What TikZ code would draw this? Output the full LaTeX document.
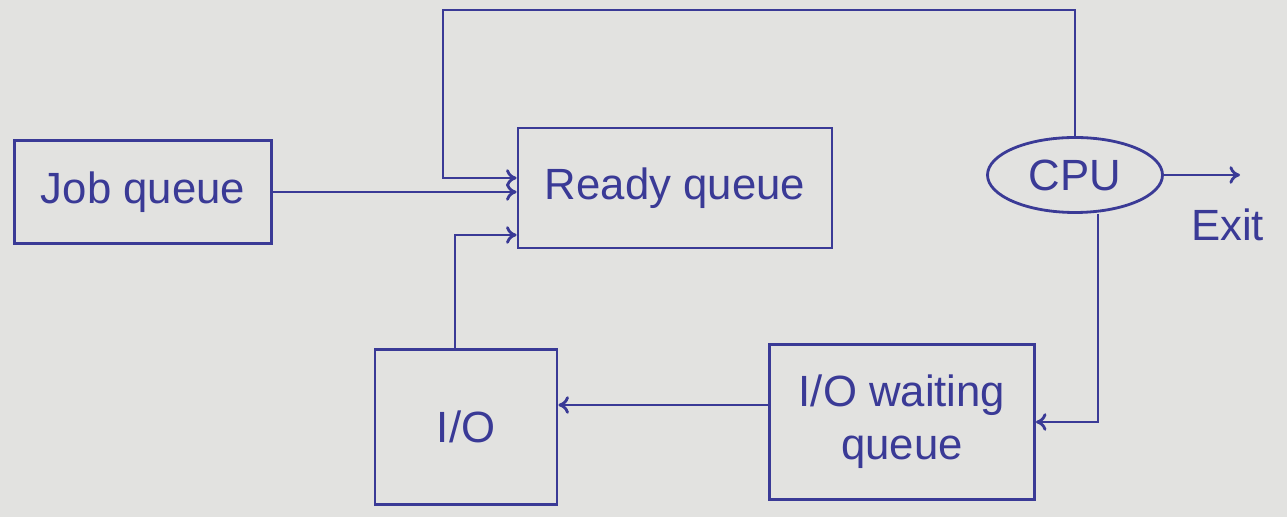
\documentclass[tikz,border=0pt]{standalone}
\usepackage{fontspec}
\setmainfont{Liberation Sans}
\usetikzlibrary{shapes.geometric,arrows.meta}
\definecolor{ink}{RGB}{58,58,150}
\definecolor{paper}{RGB}{226,226,224}
\begin{document}
\begin{tikzpicture}[
        box/.style={draw=ink, line width=1.6pt, rectangle, text=ink, font=\Huge, align=center},
        arrowline/.style={ink, line width=1.6pt, -{To[length=6pt,width=10pt]}}]
                \fill[paper] (0,0) rectangle (25.74,10.34);
                \useasboundingbox (0,0) rectangle (25.74,10.34);

                \node[box, minimum width=5.14cm, minimum height=2.06cm] (job) at (2.86,6.5) {Job queue}; %job queue
                \node[box, minimum width=6.28cm, minimum height=2.4cm] (ready) at (13.5,6.58) {Ready queue}; %ready queue
                \node[box, ellipse, minimum width=3.5cm, minimum height=1.5cm] (cpu) at (21.5,6.84) {CPU}; %cpu
                \node[box, minimum width=5.3cm, minimum height=3.1cm] (wait) at (18.04,1.9) {I/O waiting\\queue}; %io waiting
                \node[box, minimum width=3.64cm, minimum height=3.1cm] (io) at (9.32,1.8) {I/O}; %io
                \node[text=ink, font=\Huge] (exittext) at (24.55,5.84) {Exit};

                \coordinate (exit) at (24.8,6.84);
                \coordinate (loop) at (8.86,10.14);

                \draw[arrowline] (job.east) -- (job.east -| ready.west);
                \draw[arrowline] (cpu.north) |- (loop) |- ([yshift=0.2cm]ready.west);
                \draw[arrowline] (cpu.east) -- (exit);
                \draw[arrowline] ([xshift=0.46cm]cpu.south) |- (wait.east);
                \draw[arrowline] ([yshift=0.34cm]wait.west) -- ([yshift=0.34cm]wait.west -| io.east);
                \draw[arrowline] ([xshift=-0.22cm]io.north) |- ([yshift=-0.94cm]ready.west);
            \end{tikzpicture}
\end{document}
